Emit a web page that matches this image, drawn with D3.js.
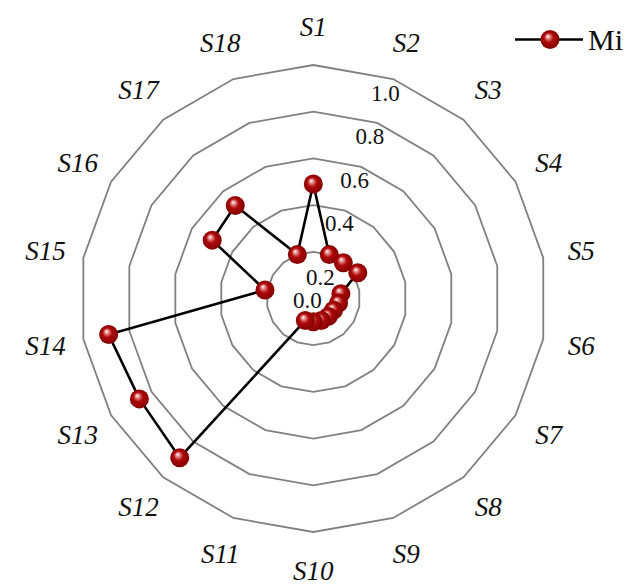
<!DOCTYPE html>
<html>
<head>
<meta charset="utf-8">
<script src="https://cdn.jsdelivr.net/npm/d3@7"></script>
<style>
	body { margin: 0; background: #fff; }
	svg { display: block; }
	svg text { font-family: 'Liberation Serif', 'Times New Roman', Times, serif; fill: #111; }
</style>
</head>
<body>
<div id="radar-content"></div>
<script>
const dest		= '#radar-content';

const categories	= ['S1','S2','S3','S4','S5','S6','S7','S8','S9','S10','S11','S12','S13','S14','S15','S16','S17','S18'];
const miValues		= [0.49, 0.20, 0.20, 0.22, 0.12, 0.11, 0.10, 0.10, 0.10, 0.10, 0.10, 0.89, 0.86, 0.89, 0.21, 0.50, 0.52, 0.20];
const ringTicks		= [0.2, 0.4, 0.6, 0.8, 1.0];
const tickLabels	= [0.0, 0.2, 0.4, 0.6, 0.8, 1.0];
const seriesName	= 'Mi';

let width		= 627;
let height		= 584;
let cx			= 313.3;
let cy			= 298.5;
let radius		= 233.5;

let svg = d3.select(dest).append('svg')
	.attr('width', width)
	.attr('height', height);

// sphere look for the markers
let grad = svg.append('defs').append('radialGradient')
	.attr('id', 'ball')
	.attr('cx', '50%').attr('cy', '50%').attr('r', '55%')
	.attr('fx', '38%').attr('fy', '32%');
grad.append('stop').attr('offset', '0%').attr('stop-color', '#ffffff');
grad.append('stop').attr('offset', '22%').attr('stop-color', '#e07a7a');
grad.append('stop').attr('offset', '45%').attr('stop-color', '#b00a0a');
grad.append('stop').attr('offset', '100%').attr('stop-color', '#7a0000');

let r		= d3.scaleLinear().domain([0, 1]).range([0, radius]);
let angle	= d3.scaleLinear().domain([0, categories.length]).range([0, 2 * Math.PI]);

// tick label track, slanted toward S2 (bent near the centre like the original)
let tx		= d3.scaleLinear().domain([0, 0.2, 0.4, 1]).range([-6, 7, 26, 72]);
let ty		= d3.scaleLinear().domain([0, 0.2, 0.4, 1]).range([2, -21, -75, -205]);

let g = svg.append('g')
	.attr('transform', 'translate(' + cx + ',' + cy + ')');

let radial = d3.lineRadial()
	.angle((d) => (d[0]))
	.radius((d) => (d[1]));

// polygon grid
g.append('g')
	.attr('id', 'grid-wrapper')
	.selectAll('path')
	.data(ringTicks)
		.enter().append('path')
		.attr('d', (v) => (radial(categories.map((c, i) => ([angle(i), r(v)]))) + 'Z'))
		.attr('fill', 'none')
		.attr('stroke', '#808080')
		.attr('stroke-width', 1.8);

// category labels
let labelR = 272;
g.append('g')
	.selectAll('text')
	.data(categories)
		.enter().append('text')
		.attr('x', (c, i) => (Math.sin(angle(i)) * labelR))
		.attr('y', (c, i) => (-Math.cos(angle(i)) * labelR))
		.attr('text-anchor', 'middle')
		.attr('dominant-baseline', 'central')
		.style('font-style', 'italic')
		.style('font-size', '27px')
		.text((c) => (c));

// series line
let pts = miValues.map((v, i) => ([angle(i), r(v)]));
g.append('path')
	.attr('d', radial(pts) + 'Z')
	.attr('fill', 'none')
	.attr('stroke', '#000')
	.attr('stroke-width', 2.6);

// markers
g.append('g')
	.selectAll('circle')
	.data(miValues)
		.enter().append('circle')
		.attr('cx', (v, i) => (Math.sin(angle(i)) * r(v)))
		.attr('cy', (v, i) => (-Math.cos(angle(i)) * r(v)))
		.attr('r', 9.5)
		.attr('fill', 'url(#ball)');

// tick labels
g.append('g')
	.selectAll('text')
	.data(tickLabels)
		.enter().append('text')
		.attr('x', (v) => (tx(v)))
		.attr('y', (v) => (ty(v)))
		.attr('text-anchor', 'middle')
		.attr('dominant-baseline', 'central')
		.style('font-size', '23px')
		.text((v) => (d3.format('.1f')(v)));

// legend
let legend = svg.append('g').attr('transform', 'translate(515,39.5)');
legend.append('line')
	.attr('x1', 0).attr('x2', 68)
	.attr('y1', 0).attr('y2', 0)
	.attr('stroke', '#000')
	.attr('stroke-width', 2.6);
legend.append('circle')
	.attr('cx', 35).attr('cy', 0)
	.attr('r', 9.5)
	.attr('fill', 'url(#ball)');
legend.append('text')
	.attr('x', 73).attr('y', 0)
	.attr('dominant-baseline', 'central')
	.style('font-size', '30px')
	.text(seriesName);
</script>
</body>
</html>
